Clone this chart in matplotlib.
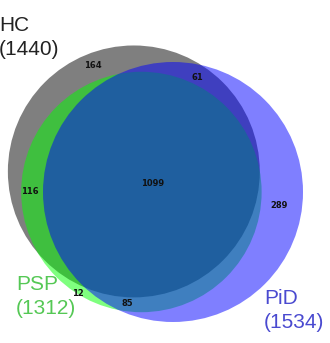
import numpy as np
import matplotlib
matplotlib.use("Agg")
import matplotlib.pyplot as plt
from matplotlib.patches import Circle

# set names and sizes
set_names = ["HC", "PSP", "PiD"]
set_sizes = [1440, 1312, 1534]
set_colors = ["black", "lime", "blue"]
label_colors = ["#222222", "#55c855", "#4a4ad0"]

# region counts
region_names = ["HC only", "HC&PiD", "HC&PSP", "all", "PiD only", "PSP only", "PSP&PiD"]
region_counts = [164, 61, 116, 1099, 289, 12, 85]

# pairwise overlaps (pair region + triple region)
pair_hc_psp = region_counts[2] + region_counts[3]
pair_hc_pid = region_counts[1] + region_counts[3]
pair_psp_pid = region_counts[6] + region_counts[3]


def lens_area(r1, r2, d):
    if d >= r1 + r2:
        return 0.0
    if d <= abs(r1 - r2):
        return np.pi * min(r1, r2) ** 2
    a1 = np.arccos((d * d + r1 * r1 - r2 * r2) / (2 * d * r1))
    a2 = np.arccos((d * d + r2 * r2 - r1 * r1) / (2 * d * r2))
    k = np.sqrt((-d + r1 + r2) * (d + r1 - r2) * (d - r1 + r2) * (d + r1 + r2))
    return r1 * r1 * a1 + r2 * r2 * a2 - 0.5 * k


def find_distance(r1, r2, area):
    lo, hi = abs(r1 - r2), r1 + r2
    for _ in range(100):
        mid = (lo + hi) / 2
        if lens_area(r1, r2, mid) > area:
            lo = mid
        else:
            hi = mid
    return (lo + hi) / 2


# pixel scale so that circle area ~ set size
scale = 130.0 / np.sqrt(set_sizes[2])
radii = [scale * np.sqrt(s) for s in set_sizes]
k2 = np.pi * scale ** 2

d_hc_pid = find_distance(radii[0], radii[2], pair_hc_pid * k2)
d_hc_psp = find_distance(radii[0], radii[1], pair_hc_psp * k2)
d_psp_pid = find_distance(radii[1], radii[2], pair_psp_pid * k2)

c_pid = np.array([173.0, 192.0])
direction = np.array([-40.0, -21.0])
direction /= np.linalg.norm(direction)
c_hc = c_pid + direction * d_hc_pid

# place PSP from the two distances, on the lower side
base = c_hc - c_pid
L = np.linalg.norm(base)
a = (d_psp_pid ** 2 - d_hc_psp ** 2 + L ** 2) / (2 * L)
h = np.sqrt(max(d_psp_pid ** 2 - a ** 2, 0))
u = base / L
perp = np.array([-u[1], u[0]])
cand1 = c_pid + u * a + perp * h
cand2 = c_pid + u * a - perp * h
c_psp = cand1 if cand1[1] > cand2[1] else cand2

centers = [c_hc, c_psp, c_pid]

fig = plt.figure(figsize=(3.30, 3.43), dpi=100)
ax = fig.add_axes([0, 0, 1, 1])
ax.set_xlim(0, 330)
ax.set_ylim(343, 0)
ax.set_aspect("equal")
ax.axis("off")

for c, r, col in zip(centers, radii, set_colors):
    ax.add_patch(Circle(c, r, facecolor=col, edgecolor="none", alpha=0.5))

# region numbers
region_pos = [(93, 66), (197, 77), (30, 192), (153, 183), (279, 205), (78, 293), (127, 304)]
for (x, y), n in zip(region_pos, region_counts):
    ax.text(x, y, str(n), fontsize=6, fontweight="bold", family="DejaVu Sans",
            ha="center", va="center", color="#111111")

# set labels, name on one line and size below
label_pos = [(-1, 16), (16, 275), (264, 289)]
for (x, y), name, size, col in zip(label_pos, set_names, set_sizes, label_colors):
    ax.text(x, y, name, fontsize=15, family="Liberation Sans",
            ha="left", va="top", color=col)
    ax.text(x, y + 24, "(%d)" % size, fontsize=15, family="Liberation Sans",
            ha="left", va="top", color=col)

fig.savefig("out.png", dpi=100)
